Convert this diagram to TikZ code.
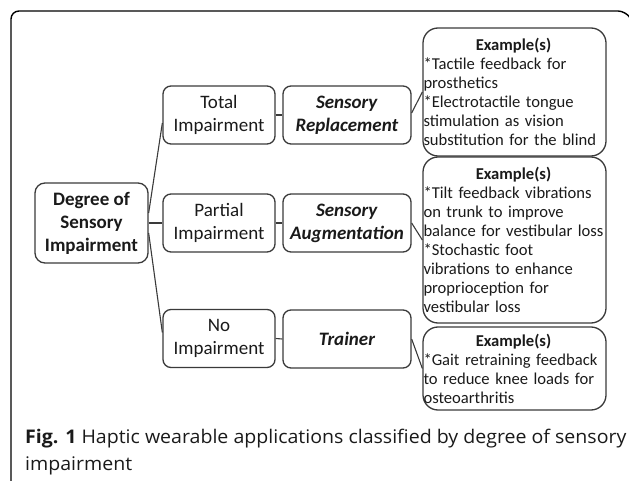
\documentclass[tikz,border=0pt]{standalone}
\usepackage{fontspec}
\setmainfont{Carlito}
\newfontfamily\capfont[FakeStretch=1.04]{Open Sans}
\definecolor{boxgray}{HTML}{3A3A3A}
\definecolor{txt}{HTML}{1A1A1A}
\newcommand{\extitle}{\makebox[180pt]{\textbf{Example(s)}}}
\begin{document}
\begin{tikzpicture}[x=1pt,y=-1pt,
  box/.style={draw=boxgray, line width=1.3pt, rounded corners=8pt, align=center,
    font=\fontsize{19}{23}\selectfont, inner sep=0pt, text=txt},
  exbox/.style={draw=boxgray, line width=1.3pt, rounded corners=15pt, align=left,
    text width=182pt, inner sep=0pt, minimum width=183pt,
    font=\fontsize{16.6}{19}\selectfont, text=txt},
  conn/.style={draw=boxgray, line width=1.1pt},
  frame/.style={draw=black, line width=1.4pt}]
\useasboundingbox (0,0) rectangle (629,481);
\draw[frame, rounded corners=8pt] (11,485) -- (11,11) -- (626,11) -- (629,16);

\node[box, minimum width=113pt, minimum height=80pt, rounded corners=10pt] (deg) at (91.5,223)
  {\textbf{Degree of}\\\textbf{Sensory}\\\textbf{Impairment}};

\node[box, minimum width=112pt, minimum height=58pt] (tot) at (219,115) {Total\\Impairment};
\node[box, minimum width=112pt, minimum height=58pt] (par) at (219,223) {Partial\\Impairment};
\node[box, minimum width=112pt, minimum height=58pt] (noi) at (219,338.5) {No\\Impairment};

\node[box, minimum width=128pt, minimum height=58pt] (rep) at (347,115) {\textbf{\textit{Sensory}}\\\textbf{\textit{Replacement}}};
\node[box, minimum width=128pt, minimum height=58pt] (aug) at (347,223) {\textbf{\textit{Sensory}}\\\textbf{\textit{Augmentation}}};
\node[box, minimum width=128pt, minimum height=58pt] (tra) at (347,339) {\textbf{\textit{Trainer}}};

\node[exbox, minimum height=128pt] (ex1) at (514.5,92)
  {\extitle\\{*}Tactile feedback for\\prosthetics\\{*}Electrotactile tongue\\stimulation as vision\\substitution for the blind};
\node[exbox, minimum height=166pt] (ex2) at (514.5,240)
  {\extitle\\{*}Tilt feedback vibrations\\on trunk to improve\\balance for vestibular loss\\{*}Stochastic foot\\vibrations to enhance\\proprioception for\\vestibular loss};
\node[exbox, minimum height=83pt] (ex3) at (514.5,368.5)
  {\extitle\\{*}Gait retraining feedback\\to reduce knee loads for\\osteoarthritis};

\draw[conn] ([yshift=10pt]deg.east) -- ([yshift=-8pt]tot.west);
\draw[conn] (deg.east) -- (par.west);
\draw[conn] ([yshift=-10pt]deg.east) -- ([yshift=6pt]noi.west);
\draw[conn] (tot.east) -- (rep.west);
\draw[conn] (par.east) -- (aug.west);
\draw[conn] (noi.east) -- (tra.west);
\draw[conn] ([yshift=2pt]rep.east) -- (ex1.west);
\draw[conn] (aug.east) -- (ex2.west);
\draw[conn] (tra.east) -- (ex3.west);

\node[anchor=base west, inner sep=0pt, text=txt,
  font=\capfont\fontsize{18.8}{27}\selectfont] (cap) at (25,443)
  {\textbf{Fig. 1} Haptic wearable applications classified by degree of sensory};
\node[anchor=base west, inner sep=0pt, text=txt,
  font=\capfont\fontsize{18.8}{27}\selectfont] (cap2) at (25,470)
  {impairment};
\end{tikzpicture}
\end{document}
